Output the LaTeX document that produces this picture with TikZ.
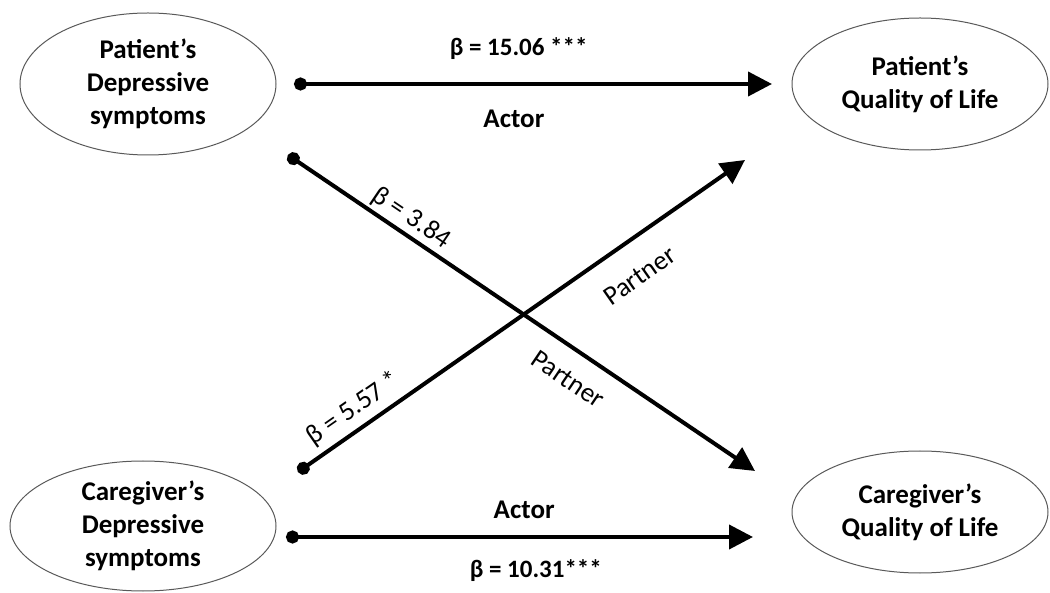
\documentclass[tikz,border=0pt]{standalone}
\usepackage{fontspec}
\setmainfont{Carlito}
\usetikzlibrary{arrows.meta, shapes.geometric}

\begin{document}
\begin{tikzpicture}[x=1pt, y=-1pt,
        var/.style={draw=black!65, line width=1pt, ellipse, inner sep=0pt, align=center,
            font=\fontsize{27}{33}\selectfont\bfseries},
        effect/.style={line width=4pt, {Circle[length=13pt]}-{Triangle[length=24pt,width=24pt]}},
        coef/.style={inner sep=0pt, font=\fontsize{25}{30}\selectfont\bfseries},
        role/.style={inner sep=0pt, font=\fontsize{27}{30}\selectfont\bfseries},
        slab/.style={inner sep=0pt, sloped, font=\fontsize{27}{30}\selectfont}]
        \useasboundingbox (0,0) rectangle (1050,593);

        \node[var, minimum width=256pt, minimum height=142pt] (pdep) at (148,84) {Patient’s\\Depressive\\symptoms};
        \node[var, minimum width=256pt, minimum height=132pt] (pqol) at (920,84) {Patient’s\\Quality of Life};
        \node[var, minimum width=266pt, minimum height=130pt] (cdep) at (143,526) {Caregiver’s\\Depressive\\symptoms};
        \node[var, minimum width=256pt, minimum height=122pt] (cqol) at (920,512) {Caregiver’s\\Quality of Life};

        \coordinate (pd-out) at (294,84);
        \coordinate (pq-in) at (772,84);
        \coordinate (pd-cross) at (288,155);
        \coordinate (cq-cross) at (755,471);
        \coordinate (cd-cross) at (298,472);
        \coordinate (pq-cross) at (745,160);
        \coordinate (cd-out) at (286,537);
        \coordinate (cq-in) at (753,537);

        \draw[effect] (pd-out) -- node[coef, above=22pt, pos=0.47] {β = 15.06 ***}
            node[role, below=24pt, pos=0.46] {Actor} (pq-in);
        \draw[effect] (pd-cross) -- node[slab, above=3pt, pos=0.244] {β = 3.84}
            node[slab, below=18pt, pos=0.634] {Partner} (cq-cross);
        \draw[effect] (cd-cross) -- node[slab, above=6pt, pos=0.15] {β = 5.57 *}
            node[slab, below=24pt, pos=0.72] {Partner} (pq-cross);
        \draw[effect] (cd-out) -- node[role, above=16pt, pos=0.51] {Actor}
            node[coef, below=21pt, pos=0.535] {β = 10.31***} (cq-in);
    \end{tikzpicture}
\end{document}
